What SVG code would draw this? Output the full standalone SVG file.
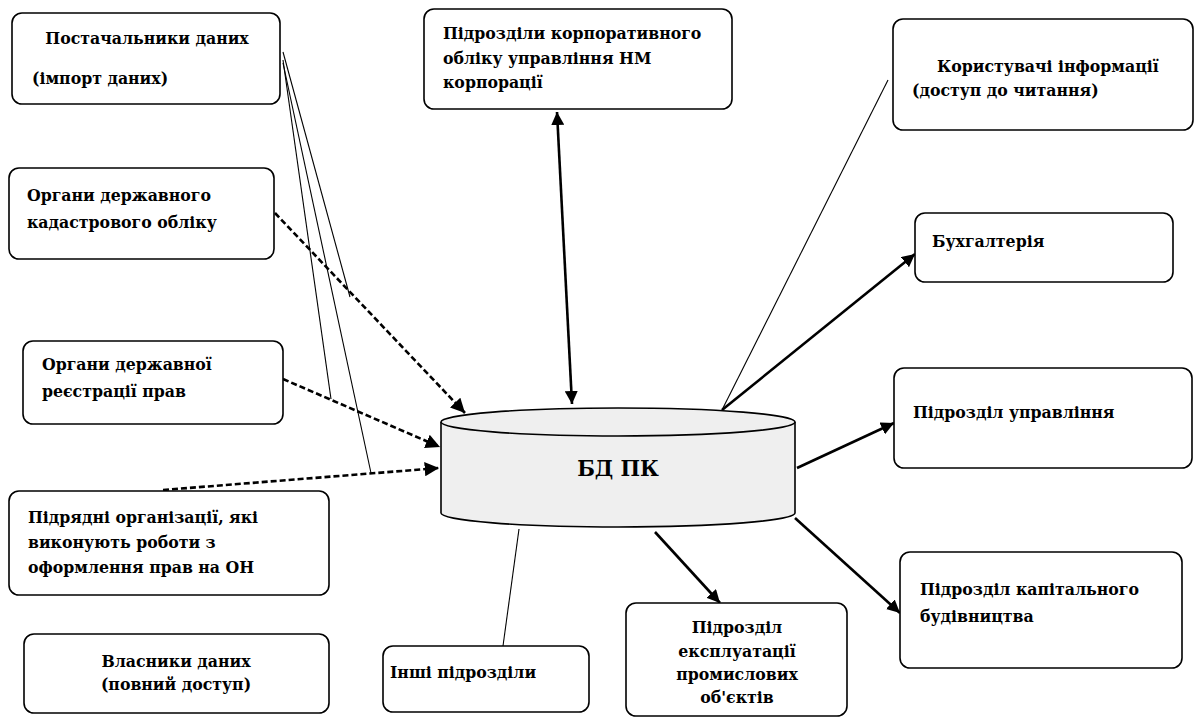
<svg xmlns="http://www.w3.org/2000/svg" width="1195" height="718" viewBox="0 0 1195 718">
<defs>
<style>
.box{fill:#fff;stroke:#000;stroke-width:1.6}
text{font-family:'DejaVu Serif Condensed','DejaVu Serif',serif;font-stretch:condensed;font-weight:bold;font-size:17.5px;fill:#000}
.thin{stroke:#000;stroke-width:1.1;fill:none}
.thick{stroke:#000;stroke-width:2.6;fill:none}
.dash{stroke:#000;stroke-width:2.6;fill:none;stroke-dasharray:6 3}
</style>
<marker id="ah" viewBox="0 0 10 10" refX="10" refY="5" markerWidth="5" markerHeight="5" markerUnits="strokeWidth" orient="auto-start-reverse">
<path d="M0,0 L10,5 L0,10 z" fill="#000"/>
</marker>
<marker id="ahd" viewBox="0 0 10 10" refX="10" refY="5" markerWidth="5.5" markerHeight="5.5" markerUnits="strokeWidth" orient="auto">
<path d="M0,0 L10,5 L0,10 z" fill="#000"/>
</marker>
</defs>
<rect width="1195" height="718" fill="#fff"/>

<g id="connectors">
<line class="thin" x1="283" y1="52" x2="350" y2="297"/>
<line class="thin" x1="283" y1="60" x2="331" y2="399"/>
<line class="thin" x1="283" y1="63" x2="371" y2="473"/>
<line class="dash" x1="275" y1="213" x2="465" y2="413" marker-end="url(#ahd)"/>
<line class="dash" x1="283" y1="379" x2="440" y2="447" marker-end="url(#ahd)"/>
<line class="dash" x1="163" y1="490" x2="439" y2="468" marker-end="url(#ahd)"/>
<line class="thick" x1="557" y1="112" x2="572" y2="404" marker-start="url(#ah)" marker-end="url(#ah)"/>
<line class="thin" x1="888" y1="80" x2="722" y2="410"/>
<line class="thick" x1="722" y1="410" x2="915" y2="254" marker-end="url(#ah)"/>
<line class="thick" x1="797" y1="468" x2="894" y2="423" marker-end="url(#ah)"/>
<line class="thick" x1="795" y1="518" x2="900" y2="613" marker-end="url(#ah)"/>
<line class="thick" x1="655" y1="532" x2="720" y2="603" marker-end="url(#ah)"/>
<line class="thin" x1="519" y1="529" x2="503" y2="646"/>
</g>

<g id="db">
<path d="M441,422 L441,513 A177,14 0 0 0 795,513 L795,422" fill="#efefef" stroke="#000" stroke-width="1.6"/>
<ellipse cx="618" cy="422" rx="177" ry="14" fill="#efefef" stroke="#000" stroke-width="1.6"/>
<text x="618" y="476" text-anchor="middle" style="font-size:23px">БД ПК</text>
</g>

<g id="n-suppliers">
<rect class="box" x="12" y="13" width="268" height="91" rx="10"/>
<text x="147" y="44" text-anchor="middle">Постачальники даних</text>
<text x="32" y="84">(імпорт даних)</text>
</g>

<g id="n-cadastre">
<rect class="box" x="9" y="168" width="265" height="91" rx="10"/>
<text x="27" y="201">Органи державного</text>
<text x="27" y="228">кадастрового обліку</text>
</g>

<g id="n-registration">
<rect class="box" x="23" y="341" width="260" height="83" rx="10"/>
<text x="42" y="370">Органи державної</text>
<text x="42" y="397">реєстрації прав</text>
</g>

<g id="n-contractors">
<rect class="box" x="9" y="491" width="320" height="104" rx="10"/>
<text x="28" y="523">Підрядні організації, які</text>
<text x="28" y="548">виконують роботи з</text>
<text x="28" y="573">оформлення прав на ОН</text>
</g>

<g id="n-owners">
<rect class="box" x="24" y="634" width="305" height="79" rx="10"/>
<text x="176" y="667" text-anchor="middle">Власники даних</text>
<text x="176" y="690" text-anchor="middle">(повний доступ)</text>
</g>

<g id="n-corporate">
<rect class="box" x="424" y="9" width="308" height="100" rx="10"/>
<text x="443" y="39">Підрозділи корпоративного</text>
<text x="443" y="64">обліку управління НМ</text>
<text x="443" y="88">корпорації</text>
</g>

<g id="n-users">
<rect class="box" x="893" y="19" width="300" height="111" rx="10"/>
<text x="937" y="72">Користувачі інформації</text>
<text x="912" y="96">(доступ до читання)</text>
</g>

<g id="n-accounting">
<rect class="box" x="915" y="213" width="258" height="69" rx="10"/>
<text x="932" y="247">Бухгалтерія</text>
</g>

<g id="n-management">
<rect class="box" x="894" y="368" width="298" height="100" rx="10"/>
<text x="913" y="418">Підрозділ управління</text>
</g>

<g id="n-construction">
<rect class="box" x="900" y="552" width="282" height="116" rx="10"/>
<text x="920" y="595">Підрозділ капітального</text>
<text x="920" y="622">будівництва</text>
</g>

<g id="n-operation">
<rect class="box" x="626" y="603" width="221" height="113" rx="10"/>
<text x="737" y="633" text-anchor="middle">Підрозділ</text>
<text x="737" y="657" text-anchor="middle">експлуатації</text>
<text x="737" y="680" text-anchor="middle">промислових</text>
<text x="737" y="703" text-anchor="middle">об'єктів</text>
</g>

<g id="n-other">
<rect class="box" x="383" y="646" width="206" height="66" rx="10"/>
<text x="390" y="678">Інші підрозділи</text>
</g>
</svg>
